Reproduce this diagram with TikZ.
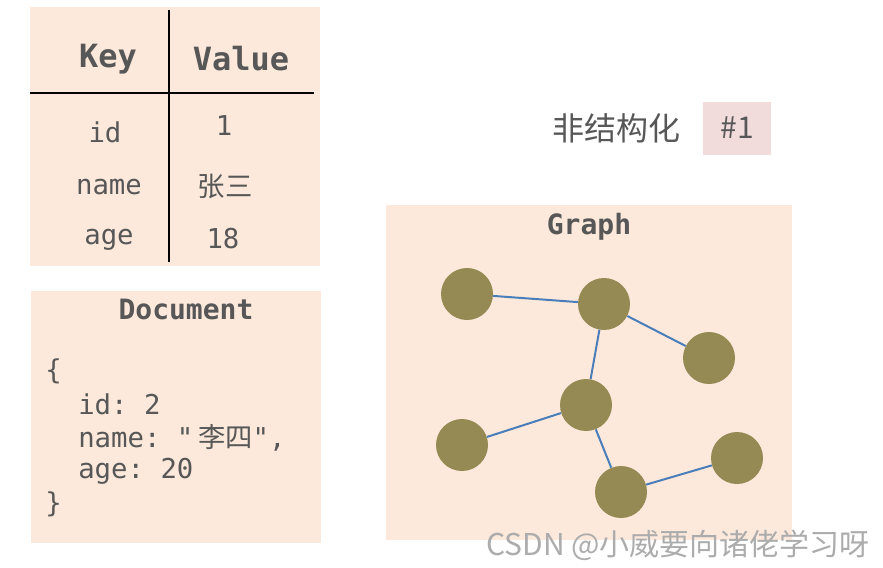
\documentclass[tikz,border=0pt]{standalone}
\usepackage{fontspec}
\setmonofont{DejaVu Sans Mono}
\newfontfamily\cjk{Noto Sans CJK SC}
\usepackage{tikz}
\usetikzlibrary{arrows}
\definecolor{peach}{HTML}{FCE9DB}
\definecolor{rosy}{HTML}{F2DCDB}
\definecolor{olive}{HTML}{958A54}
\definecolor{edgeblue}{HTML}{4A7EBB}
\definecolor{txtgray}{HTML}{575757}

\begin{document}
\begin{tikzpicture}[x=0.75pt,y=-0.75pt,
			box/.style={fill=peach,draw=none},
			head/.style={text=txtgray,font=\ttfamily\bfseries\fontsize{21}{25}\selectfont,inner sep=0pt},
			entry/.style={text=txtgray,font=\ttfamily\fontsize{20.5}{24}\selectfont,inner sep=0pt},
			main node/.style={circle,fill=olive,draw=none,minimum size=39pt,inner sep=0pt}]
			
			\useasboundingbox (0,0) rectangle (883,568);
			
			% key / value table
			\fill[box] (30,7) rectangle (320,266);
			\draw[line width=1.5pt] (169,10) -- (169,262);
			\draw[line width=1.5pt] (30,93) -- (314,93);
			\node[head,font=\ttfamily\bfseries\fontsize{24}{28}\selectfont] (key) at (108,59) {Key};
			\node[head,font=\ttfamily\bfseries\fontsize{24}{28}\selectfont] (value) at (241,59) {Value};
			\node[entry] (kid) at (105,132) {id};
			\node[entry] (vid) at (224,126) {1};
			\node[entry] (kname) at (109,187) {name};
			\node[entry,font=\cjk\fontsize{20.5}{24}\selectfont] (vname) at (225,186) {张三};
			\node[entry] (kage) at (109,240) {age};
			\node[entry] (vage) at (223,239) {18};
			
			% document
			\fill[box] (31,291) rectangle (321,543);
			\node[head] (doc) at (186,309) {Document};
			\node[entry,anchor=west] (open) at (45,371) {\{};
			\node[entry,anchor=west] (did) at (78,404) {id: 2};
			\node[entry,anchor=west] (dname) at (78,438) {name: "\,{\cjk 李四}",};
			\node[entry,anchor=west] (dage) at (78,471) {age: 20};
			\node[entry,anchor=west] (close) at (45,504) {\}};
			
			% label
			\node[text=txtgray,font=\cjk\fontsize{24}{28}\selectfont,inner sep=0pt] (unstr) at (616,128) {非结构化};
			\fill[rosy] (703,102) rectangle (771,155);
			\node[text=txtgray,font=\cjk\fontsize{22.5}{26}\selectfont,inner sep=0pt] (tag) at (737,128) {\#1};
			
			% graph
			\fill[box] (386,205) rectangle (792,540);
			\node[head] (graph) at (589,227) {Graph};
			
			\node[main node] (A) at (467,294) {};
			\node[main node] (B) at (604,304) {};
			\node[main node] (C) at (709,358) {};
			\node[main node] (D) at (586,405) {};
			\node[main node] (E) at (462,445) {};
			\node[main node] (F) at (621,492) {};
			\node[main node] (G) at (737,458) {};
			\path[-,draw=edgeblue,line width=1.5pt]
			(A) edge (B)
			(B) edge (C)
			(B) edge (D)
			(D) edge (E)
			(D) edge (F)
			(F) edge (G);
			
			\node[text=gray!65,font=\cjk\fontsize{22.5}{26}\selectfont,inner sep=0pt] (mark) at (678,545) {CSDN @小威要向诸佬学习呀};
		\end{tikzpicture}
\end{document}
